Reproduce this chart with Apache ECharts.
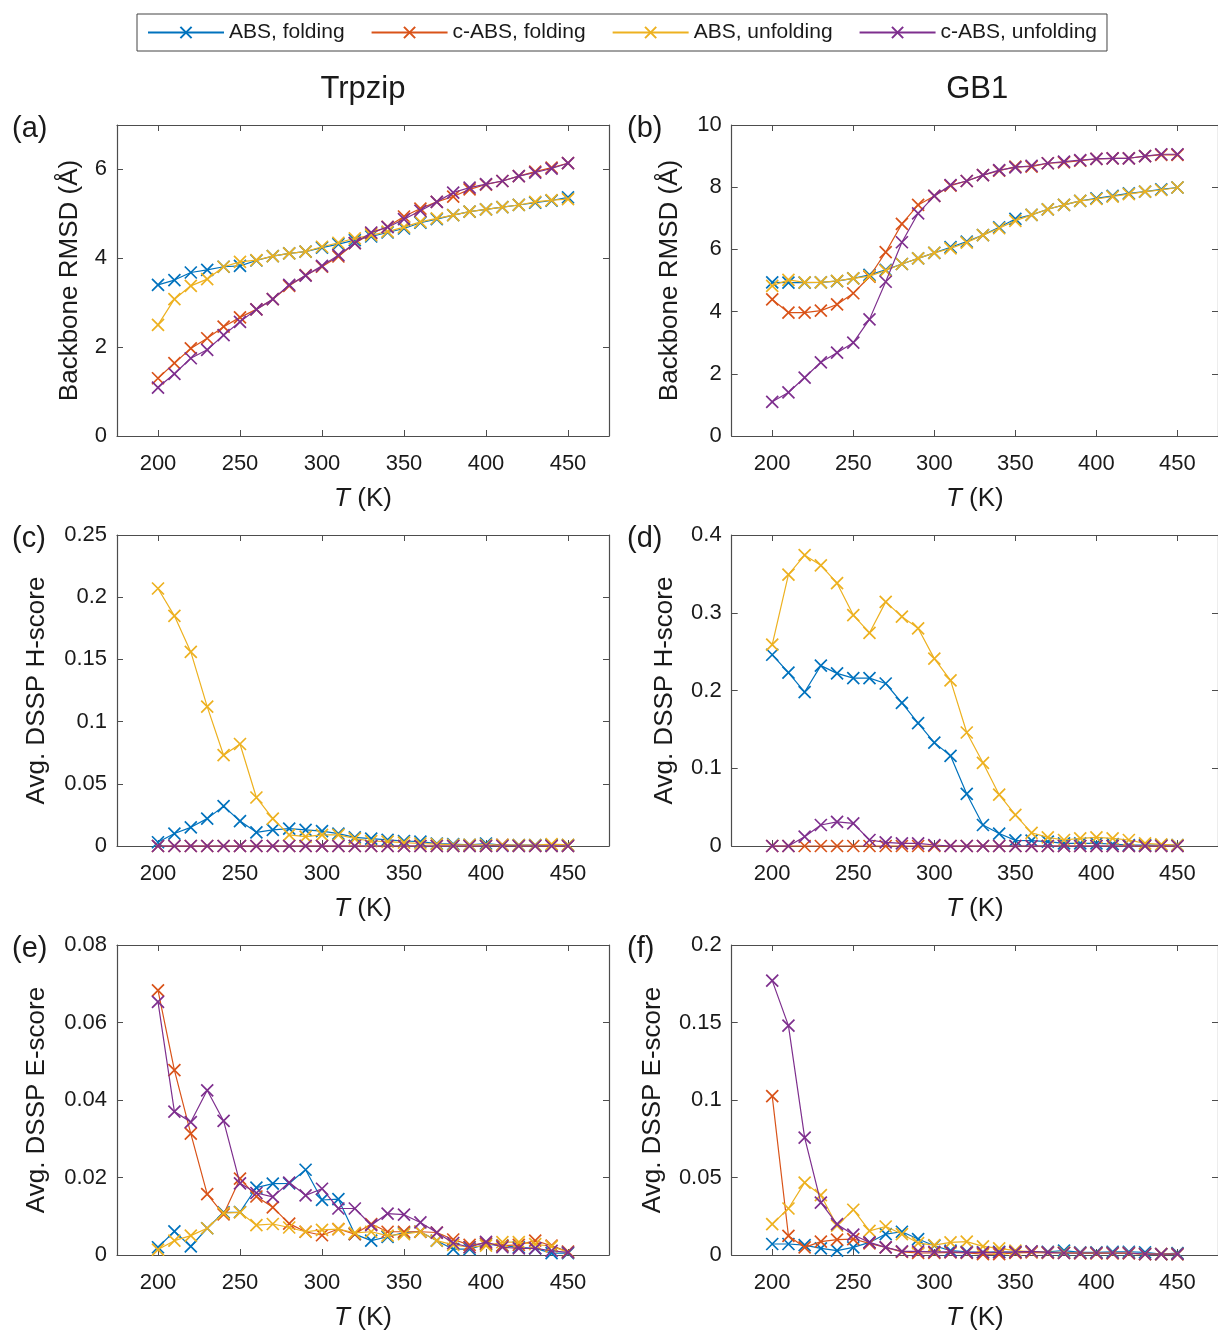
<!DOCTYPE html>
<html>
<head>
<meta charset="utf-8">
<script src="https://cdn.jsdelivr.net/npm/echarts@6/dist/echarts.min.js"></script>
<style>
html,body{margin:0;padding:0;background:#fff;}
#chart{width:1218px;height:1332px;}
</style>
</head>
<body>
<div id="chart"></div>
<script>
// ---------- data ----------
const temps = [200,210,220,230,240,250,260,270,280,290,300,310,320,330,340,350,360,370,380,390,400,410,420,430,440,450];
const seriesNames = ['ABS, folding','c-ABS, folding','ABS, unfolding','c-ABS, unfolding'];
const xTicks = [200,250,300,350,400,450];

// (a) Trpzip backbone RMSD
const a_absFold  = [3.40,3.51,3.68,3.74,3.81,3.83,3.95,4.05,4.11,4.15,4.24,4.32,4.41,4.49,4.58,4.67,4.80,4.88,4.97,5.05,5.10,5.15,5.20,5.25,5.30,5.37];
const a_cabsFold = [1.30,1.64,1.97,2.20,2.46,2.67,2.85,3.08,3.38,3.62,3.81,4.04,4.34,4.56,4.71,4.94,5.12,5.27,5.39,5.55,5.66,5.74,5.85,5.95,6.04,6.14];
const a_absUnf   = [2.50,3.08,3.38,3.53,3.81,3.92,3.96,4.05,4.11,4.15,4.26,4.35,4.45,4.52,4.60,4.70,4.82,4.90,4.97,5.05,5.10,5.15,5.20,5.27,5.31,5.33];
const a_cabsUnf  = [1.09,1.40,1.75,1.94,2.27,2.57,2.85,3.08,3.40,3.61,3.83,4.07,4.34,4.58,4.70,4.88,5.07,5.27,5.48,5.59,5.67,5.74,5.85,5.93,6.02,6.14];
const a_yTicks = [0,2,4,6];

// (b) GB1 backbone RMSD
const b_absFold  = [4.94,4.93,4.93,4.94,4.98,5.07,5.18,5.34,5.53,5.71,5.89,6.07,6.25,6.46,6.71,6.98,7.11,7.29,7.43,7.56,7.64,7.72,7.80,7.86,7.93,7.99];
const b_cabsFold = [4.39,3.97,3.97,4.03,4.23,4.59,5.12,5.91,6.82,7.43,7.72,8.05,8.20,8.39,8.53,8.66,8.66,8.77,8.80,8.85,8.91,8.93,8.93,9.00,9.04,9.04];
const b_absUnf   = [4.83,5.02,4.94,4.94,4.99,5.07,5.14,5.32,5.53,5.71,5.89,6.03,6.22,6.46,6.68,6.92,7.11,7.29,7.43,7.56,7.62,7.70,7.78,7.86,7.91,7.99];
const b_cabsUnf  = [1.10,1.40,1.88,2.37,2.68,3.00,3.75,4.96,6.23,7.16,7.72,8.07,8.20,8.39,8.55,8.64,8.69,8.77,8.82,8.87,8.91,8.93,8.93,9.00,9.06,9.06];
const b_yTicks = [0,2,4,6,8,10];

// (c) Trpzip H-score
const c_absFold  = [0.003,0.010,0.015,0.022,0.032,0.020,0.011,0.013,0.014,0.013,0.012,0.010,0.007,0.006,0.005,0.004,0.0035,0.002,0.0015,0.001,0.002,0.0008,0.0008,0.0008,0.0008,0.0008];
const c_cabsFold = [0,0,0,0,0,0,0,0,0,0,0,0,0,0,0,0,0,0,0,0,0,0.001,0,0,0,0];
const c_absUnf   = [0.207,0.185,0.156,0.112,0.073,0.082,0.039,0.022,0.009,0.0075,0.009,0.009,0.006,0.004,0.0035,0.0027,0.002,0.0015,0.001,0.001,0.001,0.0008,0.0008,0.0008,0.0015,0.001];
const c_cabsUnf  = [0,0,0,0,0,0,0,0,0,0,0,0,0,0,0,0,0,0,0,0,0,0,0,0,0,0];
const c_yTicks = [0,0.05,0.1,0.15,0.2,0.25];

// (d) GB1 H-score
const d_absFold  = [0.246,0.223,0.198,0.232,0.222,0.216,0.216,0.209,0.184,0.158,0.133,0.116,0.067,0.027,0.016,0.0073,0.0069,0.0056,0.0034,0.0034,0.0034,0.0026,0.0013,0.0013,0.0013,0.0013];
const d_cabsFold = [0,0,0,0,0,0,0,0,0,0,0,0,0,0,0,0,0,0,0,0,0,0,0,0,0,0];
const d_absUnf   = [0.259,0.349,0.374,0.361,0.338,0.297,0.274,0.314,0.295,0.280,0.241,0.213,0.146,0.107,0.066,0.040,0.017,0.011,0.0077,0.0099,0.011,0.0099,0.0077,0.0034,0.002,0.0013];
const d_cabsUnf  = [0,0,0.012,0.027,0.031,0.029,0.0077,0.0047,0.0034,0.0034,0.0013,0,0,0,0,0,0,0,0,0,0,0,0,0,0,0];
const d_yTicks = [0,0.1,0.2,0.3,0.4];

// (e) Trpzip E-score
const e_absFold  = [0.002,0.0061,0.0022,0.0069,0.011,0.0111,0.0174,0.0184,0.0185,0.022,0.0142,0.0144,0.0054,0.0037,0.0047,0.0058,0.006,0.0037,0.0015,0.0015,0.0028,0.0024,0.002,0.0017,0.0005,0.0005];
const e_cabsFold = [0.0683,0.0477,0.0313,0.0157,0.0105,0.0197,0.0151,0.0123,0.0081,0.006,0.0051,0.0067,0.0054,0.008,0.006,0.006,0.006,0.0058,0.004,0.0026,0.003,0.0024,0.0026,0.0037,0.0024,0.0009];
const e_absUnf   = [0.0014,0.0037,0.005,0.0069,0.0108,0.011,0.0077,0.008,0.0071,0.006,0.0065,0.0067,0.0057,0.006,0.005,0.0054,0.006,0.0037,0.0026,0.002,0.0024,0.0033,0.0033,0.0028,0.0022,0.0007];
const e_cabsUnf  = [0.0653,0.037,0.0343,0.0425,0.0346,0.0185,0.016,0.015,0.0187,0.0154,0.0171,0.012,0.012,0.0077,0.0107,0.0104,0.0084,0.0058,0.0031,0.002,0.0034,0.002,0.0017,0.0017,0.0011,0.0007];
const e_yTicks = [0,0.02,0.04,0.06,0.08];

// (f) GB1 E-score
const f_absFold  = [0.0071,0.0071,0.0064,0.0043,0.0028,0.0049,0.0081,0.0135,0.015,0.0103,0.006,0.0028,0.0021,0.0017,0.0021,0.0017,0.0021,0.0021,0.0028,0.0017,0.0017,0.0021,0.0021,0.0017,0.0006,0.0013];
const f_cabsFold = [0.1025,0.0124,0.0049,0.0086,0.0099,0.0103,0.0075,0.0049,0.002,0.0013,0.0013,0.0017,0.0013,0.0006,0.0006,0.0013,0.0017,0.0013,0.0013,0.001,0.001,0.001,0.001,0.0006,0.0006,0.0006];
const f_absUnf   = [0.0199,0.030,0.0467,0.0386,0.0189,0.0292,0.0156,0.0184,0.0135,0.0077,0.0064,0.0081,0.0086,0.0056,0.0043,0.0028,0.0021,0.0017,0.0017,0.0013,0.0013,0.0013,0.0013,0.0006,0.0006,0.0006];
const f_cabsUnf  = [0.177,0.148,0.0757,0.0338,0.0199,0.0131,0.0081,0.0049,0.0024,0.0024,0.002,0.002,0.0017,0.0017,0.0017,0.002,0.0024,0.0017,0.0013,0.0013,0.0013,0.0013,0.0013,0.0006,0.0006,0.0006];
const f_yTicks = [0,0.05,0.1,0.15,0.2];

const colTitles = ['Trpzip','GB1'];
const panelLabels = ['(a)','(b)','(c)','(d)','(e)','(f)'];
const yNames = ['Backbone RMSD (Å)','Backbone RMSD (Å)','Avg. DSSP H-score','Avg. DSSP H-score','Avg. DSSP E-score','Avg. DSSP E-score'];

// ---------- layout / style ----------
const colors = ['#0072BD','#D95319','#EDB120','#7E2F8E'];
const FONT = '"Liberation Sans", Arial, Helvetica, sans-serif';
const AX = '#4d4d4d';
const TXT = '#1a1a1a';
const gridLeft = [117, 731.7];
const gridWidth = [492, 491];
const gridTop = [125, 535, 945];
const gridHeight = 311;
const TICK_FS = 22, NAME_FS = 26;

const panels = [
  {data:[a_absFold,a_cabsFold,a_absUnf,a_cabsUnf], ymax:7,    yTicks:a_yTicks, nameGap:34},
  {data:[b_absFold,b_cabsFold,b_absUnf,b_cabsUnf], ymax:10,   yTicks:b_yTicks, nameGap:49},
  {data:[c_absFold,c_cabsFold,c_absUnf,c_cabsUnf], ymax:0.25, yTicks:c_yTicks, nameGap:67},
  {data:[d_absFold,d_cabsFold,d_absUnf,d_cabsUnf], ymax:0.4,  yTicks:d_yTicks, nameGap:54},
  {data:[e_absFold,e_cabsFold,e_absUnf,e_cabsUnf], ymax:0.08, yTicks:e_yTicks, nameGap:67},
  {data:[f_absFold,f_cabsFold,f_absUnf,f_cabsUnf], ymax:0.2,  yTicks:f_yTicks, nameGap:66}
];

const X_SYMBOL = 'path://M0,0L10,10M10,0L0,10';

const grids = [], xAxes = [], yAxes = [], series = [], graphics = [];
panels.forEach((p, i) => {
  const row = Math.floor(i / 2), col = i % 2;
  grids.push({left: gridLeft[col], top: gridTop[row], width: gridWidth[col], height: gridHeight, show: false});
  const tickStyle = {show: true, inside: true, length: 6, lineStyle: {color: AX, width: 1}};
  xAxes.push({
    type: 'value', gridIndex: i, min: 175, max: 475, position: 'bottom',
    axisLine: {show: true, onZero: false, lineStyle: {color: AX, width: 1.2}},
    axisTick: Object.assign({customValues: xTicks}, tickStyle),
    axisLabel: {customValues: xTicks, fontSize: TICK_FS, color: TXT, fontFamily: FONT, margin: 17},
    splitLine: {show: false},
    name: '{it|T} (K)', nameLocation: 'middle', nameGap: 50,
    nameTextStyle: {fontSize: NAME_FS, color: TXT, fontFamily: FONT,
      rich: {it: {fontStyle: 'italic', fontSize: NAME_FS, color: TXT, fontFamily: FONT}}}
  });
  xAxes.push({
    type: 'value', gridIndex: i, min: 175, max: 475, position: 'top',
    axisLine: {show: true, onZero: false, lineStyle: {color: AX, width: 1.2}},
    axisTick: Object.assign({customValues: xTicks}, tickStyle),
    axisLabel: {show: false}, splitLine: {show: false}
  });
  yAxes.push({
    type: 'value', gridIndex: i, min: 0, max: p.ymax, position: 'left',
    axisLine: {show: true, onZero: false, lineStyle: {color: AX, width: 1.2}},
    axisTick: Object.assign({customValues: p.yTicks}, tickStyle),
    axisLabel: {customValues: p.yTicks, fontSize: TICK_FS, color: TXT, fontFamily: FONT, margin: 10},
    splitLine: {show: false},
    name: yNames[i], nameLocation: 'middle', nameGap: p.nameGap, nameRotate: 90,
    nameTextStyle: {fontSize: NAME_FS, color: TXT, fontFamily: FONT}
  });
  yAxes.push({
    type: 'value', gridIndex: i, min: 0, max: p.ymax, position: 'right',
    axisLine: {show: true, onZero: false, lineStyle: {color: AX, width: 1.2}},
    axisTick: Object.assign({customValues: p.yTicks}, tickStyle),
    axisLabel: {show: false}, splitLine: {show: false}
  });
  p.data.forEach((vals, s) => {
    series.push({
      type: 'line', name: seriesNames[s],
      xAxisIndex: i * 2, yAxisIndex: i * 2,
      data: temps.map((t, k) => [t, vals[k]]),
      symbol: X_SYMBOL, symbolSize: 12, showAllSymbol: true, clip: false,
      lineStyle: {color: colors[s], width: 1.2},
      itemStyle: {color: colors[s], borderColor: colors[s], borderWidth: 1.7},
      emphasis: {disabled: true},
      animation: false, z: 2 + s
    });
  });
  graphics.push({
    type: 'text', left: col === 0 ? 12 : 627, top: gridTop[row] - 11,
    style: {text: panelLabels[i], font: '29px ' + FONT, fill: TXT}
  });
});
colTitles.forEach((t, c) => {
  graphics.push({
    type: 'text', x: gridLeft[c] + gridWidth[c] / 2, y: 89,
    style: {text: t, font: '31px ' + FONT, fill: TXT, align: 'center', verticalAlign: 'middle'}
  });
});

const chart = echarts.init(document.getElementById('chart'), null, {renderer: 'canvas'});
chart.setOption({
  backgroundColor: '#fff',
  animation: false,
  color: colors,
  legend: {
    data: seriesNames, left: 137, top: 14,
    padding: [8, 10, 8, 10], borderColor: '#444', borderWidth: 1,
    itemWidth: 76, itemHeight: 14, itemGap: 26,
    textStyle: {fontSize: 21, color: TXT, fontFamily: FONT},
    selectedMode: false
  },
  grid: grids, xAxis: xAxes, yAxis: yAxes, series: series, graphic: graphics
});
</script>
</body>
</html>
